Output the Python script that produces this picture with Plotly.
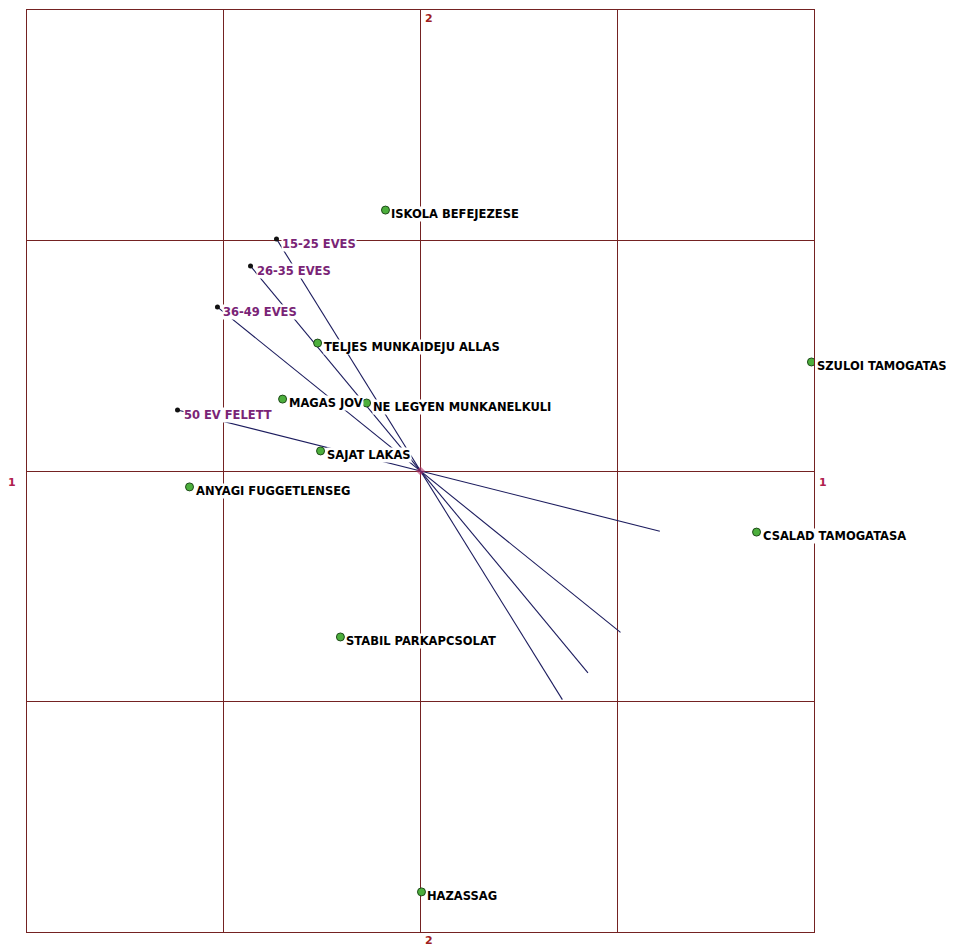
import plotly.graph_objects as go

# Category points (green markers)
cat_labels = ["ISKOLA BEFEJEZESE", "TELJES MUNKAIDEJU ALLAS", "SZULOI TAMOGATAS",
              "MAGAS JOV", "NE LEGYEN MUNKANELKULI", "SAJAT LAKAS",
              "ANYAGI FUGGETLENSEG", "CSALAD TAMOGATASA", "STABIL PARKAPCSOLAT",
              "HAZASSAG"]
cat_x = [-0.178, -0.523, 1.987, -0.701, -0.274, -0.508, -1.174, 1.708, -0.407, 0.005]
cat_y = [1.132, 0.555, 0.473, 0.312, 0.295, 0.087, -0.069, -0.265, -0.720, -1.826]

# Age group points (vectors)
grp_labels = ["15-25 EVES", "26-35 EVES", "36-49 EVES", "50 EV FELETT"]
grp_x = [-0.732, -0.864, -1.032, -1.235]
grp_y = [1.007, 0.889, 0.711, 0.265]
line_end_scale = -0.985  # vectors are drawn through the origin to the opposite side

axis_ticks = [-2, -1, 0, 1, 2]
dim_labels = ["1", "2"]

GRID = "#742222"
LINE = "#1c1c5e"
PURPLE = "#7a2476"
FONT = "DejaVu Sans"

fig = go.Figure()

# vector lines
for gx, gy in zip(grp_x, grp_y):
    fig.add_trace(go.Scatter(
        x=[gx, gx * line_end_scale], y=[gy, gy * line_end_scale],
        mode="lines", line=dict(color=LINE, width=1.1),
        showlegend=False, hoverinfo="skip"))

# origin mark
fig.add_trace(go.Scatter(x=[0], y=[0], mode="markers",
                         marker=dict(symbol="diamond", size=7, color="#b0306a", opacity=0.6),
                         showlegend=False, hoverinfo="skip"))

# group dots
fig.add_trace(go.Scatter(x=grp_x, y=grp_y, mode="markers",
                         marker=dict(symbol="circle", size=5, color="#111111"),
                         showlegend=False))

# category markers
fig.add_trace(go.Scatter(x=cat_x, y=cat_y, mode="markers",
                         marker=dict(symbol="circle", size=8, color="#4caf3c",
                                     line=dict(color="#1f4a1a", width=1)),
                         showlegend=False))

annotations = []
for lab, x, y in zip(grp_labels, grp_x, grp_y):
    annotations.append(dict(x=x, y=y, text="<b>%s</b>" % lab, showarrow=False,
                            xanchor="left", yanchor="middle", xshift=5, yshift=-5,
                            bgcolor="white", borderpad=0,
                            font=dict(family=FONT, size=11.5, color=PURPLE)))
for lab, x, y in zip(cat_labels, cat_x, cat_y):
    annotations.append(dict(x=x, y=y, text="<b>%s</b>" % lab, showarrow=False,
                            xanchor="left", yanchor="middle", xshift=5, yshift=-4,
                            bgcolor="white", borderpad=0,
                            font=dict(family=FONT, size=11.5, color="#000000")))

# dimension labels
annotations += [
    dict(x=axis_ticks[0], y=0, text="<b>%s</b>" % dim_labels[0], showarrow=False,
         xanchor="right", yanchor="top", xshift=-9, yshift=-3,
         font=dict(family=FONT, size=11, color="#b0204e")),
    dict(x=axis_ticks[-1], y=0, text="<b>%s</b>" % dim_labels[0], showarrow=False,
         xanchor="left", yanchor="top", xshift=3, yshift=-3,
         font=dict(family=FONT, size=11, color="#b0204e")),
    dict(x=0, y=axis_ticks[-1], text="<b>%s</b>" % dim_labels[1], showarrow=False,
         xanchor="left", yanchor="top", xshift=2, yshift=0,
         font=dict(family=FONT, size=11, color="#a02020")),
    dict(x=0, y=axis_ticks[0], text="<b>%s</b>" % dim_labels[1], showarrow=False,
         xanchor="left", yanchor="top", xshift=2, yshift=0,
         font=dict(family=FONT, size=11, color="#a02020")),
]

axis_common = dict(range=[axis_ticks[0], axis_ticks[-1]], tickvals=axis_ticks,
                   showticklabels=False, ticks="", showgrid=True, gridcolor=GRID,
                   gridwidth=1, zeroline=True, zerolinecolor=GRID, zerolinewidth=1,
                   showline=True, linecolor=GRID, linewidth=1, mirror=True,
                   fixedrange=True)

fig.update_layout(
    width=946, height=939,
    margin=dict(l=19, r=140, t=2, b=15),
    paper_bgcolor="white", plot_bgcolor="white",
    xaxis=axis_common, yaxis=axis_common,
    annotations=annotations,
    showlegend=False,
)

fig.write_html("out.html")
